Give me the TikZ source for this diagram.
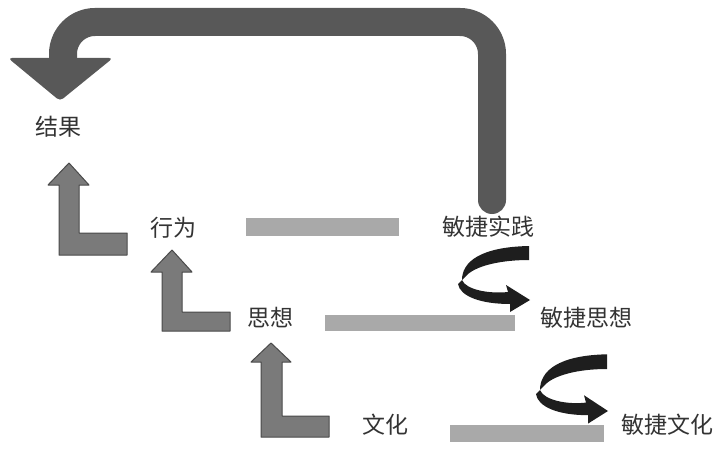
\documentclass[tikz,border=0pt]{standalone}
\usepackage{fontspec}
\newfontfamily\cjk{Noto Sans CJK SC}
\definecolor{bigc}{HTML}{585858}
\definecolor{lc}{HTML}{7A7A7A}
\definecolor{lcd}{HTML}{4A4A4A}
\definecolor{barc}{HTML}{A9A9A9}
\definecolor{curc}{HTML}{1E1E1E}
\tikzset{lbl/.style={font=\cjk\fontsize{23}{23}\selectfont, text=black!80, inner sep=0pt},
 bar/.style={fill=barc, draw=none},
 larrow/.style={fill=lc, draw=lcd, line width=1pt, line join=round},
 curl/.style={fill=curc, draw=none}}
\begin{document}
\begin{tikzpicture}[x=1pt,y=-1pt]
\useasboundingbox (0,0) rectangle (724,452);
% big return arrow
\draw[bigc, line width=28pt, line cap=round, rounded corners=32pt] (492,200) -- (492,22) -- (63,22) -- (63,66);
\fill[bigc, rounded corners=4pt] (8,58) -- (113,58) -- (60,101) -- cycle;
% labels
\node[lbl] (res) at (58,127) {结果};
\node[lbl] (act) at (173,228) {行为};
\node[lbl] (ap) at (488,227) {敏捷实践};
\node[lbl] (th) at (270,318) {思想};
\node[lbl] (at) at (586,318) {敏捷思想};
\node[lbl] (cu) at (385,425) {文化};
\node[lbl] (ac) at (667,425) {敏捷文化};
% bars
\fill[bar] (246,218) rectangle (399,236);
\fill[bar] (325,315) rectangle (515,331);
\fill[bar] (450,425) rectangle (604,442);
% L arrows
\draw[larrow] (69,163) -- (89,185) -- (79,185) -- (79,233) -- (127,233) -- (127,255) -- (59,255) -- (59,185) -- (48,185) -- cycle;
\draw[larrow] (172,250) -- (192,272) -- (182,272) -- (182,312) -- (230,312) -- (230,331) -- (162,331) -- (162,272) -- (151,272) -- cycle;
\draw[larrow] (271,343) -- (291,362) -- (282,362) -- (282,416) -- (329,416) -- (329,437) -- (261,437) -- (261,362) -- (251,362) -- cycle;
% curled arrows
\fill[curc] (529,246) .. controls (480,247) and (462,262) .. (462,280) .. controls (466,290) and (490,294) .. (508,292) -- (506,285) -- (530,300) -- (510,312) -- (510,304) .. controls (480,304) and (460,296) .. (458,284) -- (466,276) .. controls (475,266) and (500,260) .. (529,260) -- cycle;
\begin{scope}[shift={(78,96)}, yscale=1.05]
\fill[curc] (529,246) .. controls (480,247) and (462,262) .. (462,280) .. controls (466,290) and (490,294) .. (508,292) -- (506,285) -- (530,300) -- (510,312) -- (510,304) .. controls (480,304) and (460,296) .. (458,284) -- (466,276) .. controls (475,266) and (500,260) .. (529,260) -- cycle;
\end{scope}
\end{tikzpicture}
\end{document}
